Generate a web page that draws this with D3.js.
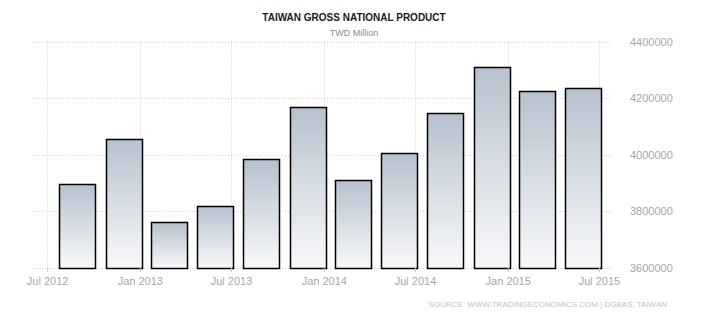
<!DOCTYPE html>
<html>
<head>
<meta charset="utf-8">
<script src="https://d3js.org/d3.v7.min.js"></script>
<style type="text/css">
  body { margin: 0; background: #fff; }
  text { font-family: "Liberation Sans", Arial, sans-serif; }
</style>
</head>
<body>
<svg id="chart" width="710" height="320"></svg>
<script>

// quarter end dates and values (TWD million)
const quarters = ['2012-09-30', '2012-12-31', '2013-03-31', '2013-06-30', '2013-09-30', '2013-12-31',
  '2014-03-31', '2014-06-30', '2014-09-30', '2014-12-31', '2015-03-31', '2015-06-30'];
const gnp = [3894500, 4053800, 3762100, 3816600, 3983000, 4167000,
  3908700, 4004000, 4145800, 4308700, 4223700, 4234300];
const yTicks = [3600000, 3800000, 4000000, 4200000, 4400000];
const xTicks = ['2012-07-01', '2013-01-01', '2013-07-01', '2014-01-01', '2014-07-01', '2015-01-01', '2015-07-01'];

const parseTime = d3.timeParse('%Y-%m-%d');
const data = quarters.map((q, i) => ({ date: parseTime(q), value: gnp[i] }));

const chart = d3.select('#chart');
const plot = { left: 33, right: 608, top: 41.5, bottom: 267.5 };

const x = d3.scaleTime()
  .domain([parseTime('2012-06-03'), parseTime('2015-07-19')])
  .range([plot.left, plot.right]);
const y = d3.scaleLinear().domain([3600000, 4400000]).range([plot.bottom, plot.top]);

const defs = chart.append('defs');
const grad = defs.append('linearGradient')
  .attr('id', 'barGrad').attr('x1', 0).attr('y1', 0).attr('x2', 0).attr('y2', 1);
grad.append('stop').attr('offset', '0%').attr('stop-color', '#b6c2ce');
grad.append('stop').attr('offset', '100%').attr('stop-color', '#f9f9fb');

// grid
chart.append('g')
  .selectAll('line')
  .data(yTicks)
  .join('line')
  .attr('x1', plot.left).attr('x2', plot.right + 2)
  .attr('y1', d => Math.round(y(d)) + 0.5).attr('y2', d => Math.round(y(d)) + 0.5)
  .attr('stroke', '#cccccc').attr('stroke-dasharray', '1,2');

chart.append('g')
  .selectAll('line')
  .data(xTicks.map(parseTime))
  .join('line')
  .attr('x1', d => Math.round(x(d)) + 0.5).attr('x2', d => Math.round(x(d)) + 0.5)
  .attr('y1', plot.top).attr('y2', plot.bottom)
  .attr('stroke', '#cccccc').attr('stroke-dasharray', '1,2');

// bars
const barW = 36;
chart.append('g')
  .selectAll('rect')
  .data(data)
  .join('rect')
  .attr('x', d => Math.round(x(d.date) + 2.5 - barW) + 0.5)
  .attr('width', barW)
  .attr('y', d => Math.round(y(d.value)) + 0.5)
  .attr('height', d => Math.round(y(3600000)) - Math.round(y(d.value)))
  .attr('fill', 'url(#barGrad)')
  .attr('stroke', '#000')
  .attr('stroke-width', 1.5);

// x axis
const xAxis = chart.append('g')
  .attr('transform', `translate(0 ${Math.round(plot.bottom)})`)
  .call(d3.axisBottom(x)
    .tickValues(xTicks.map(parseTime))
    .tickFormat(d3.timeFormat('%b %Y'))
    .tickSize(4)
    .tickPadding(5));
xAxis.select('.domain').remove();
xAxis.selectAll('line').attr('stroke', '#c8c8c8');
xAxis.selectAll('text')
  .attr('fill', '#a6a6ad')
  .style('font-size', '11px');

// y axis labels on the right
const yAxis = chart.append('g')
  .attr('transform', `translate(${plot.right} 0)`)
  .call(d3.axisRight(y).tickValues(yTicks).tickFormat(d3.format('d')).tickSize(0).tickPadding(22));
yAxis.select('.domain').remove();
yAxis.selectAll('text')
  .attr('fill', '#a6a6ad')
  .style('font-size', '11px');

// titles
chart.append('text')
  .attr('x', 354).attr('y', 21)
  .attr('text-anchor', 'middle')
  .attr('fill', '#1a1a1a')
  .style('font-size', '10px')
  .style('font-weight', 'bold')
  .text('TAIWAN GROSS NATIONAL PRODUCT');

chart.append('text')
  .attr('x', 354).attr('y', 36)
  .attr('text-anchor', 'middle')
  .attr('fill', '#8a8a92')
  .style('font-size', '9px')
  .text('TWD Million');

chart.append('text')
  .attr('x', 667).attr('y', 307)
  .attr('text-anchor', 'end')
  .attr('fill', '#c2c2c8')
  .style('font-size', '8px')
  .text('SOURCE: WWW.TRADINGECONOMICS.COM | DGBAS, TAIWAN');

</script>
</body>
</html>
